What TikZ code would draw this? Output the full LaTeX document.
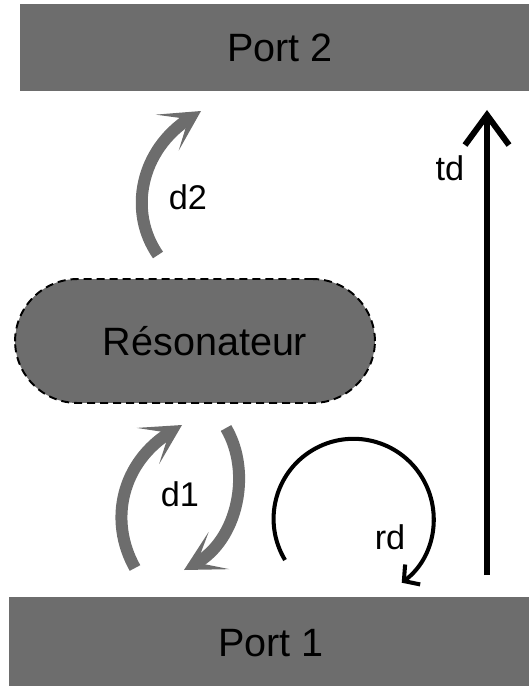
\documentclass[tikz,border=0pt]{standalone}
\usepackage{fontspec}
\setmainfont{Liberation Sans}
\definecolor{portgray}{RGB}{109,109,109}
\usetikzlibrary{arrows.meta,positioning,calc}
\tikzset{
  portbox/.style={fill=portgray, draw=none, minimum height=1.76cm,
    align=center, font=\fontsize{22.5}{26}\selectfont},
  resobox/.style={fill=portgray, draw=black, dashed, line width=1.1pt,
    dash pattern=on 0.16cm off 0.1cm, rounded corners=1.25cm,
    minimum width=7.2cm, minimum height=2.48cm,
    align=center, font=\fontsize{22.5}{26}\selectfont},
  lbl/.style={font=\fontsize{19.5}{22}\selectfont, inner sep=0pt},
  garr/.style={portgray, line width=0.24cm,
    -{Stealth[length=0.8cm, width=0.85cm, inset=0.5cm]}},
  barr/.style={black, line width=2.3pt,
    -{Straight Barb[length=0.22cm, width=0.5cm]}},
  tarr/.style={black, line width=3.4pt,
    -{Straight Barb[length=0.6cm, width=0.88cm]}},
}

\begin{document}
\begin{tikzpicture}[x=0.02cm, y=0.02cm]
  \useasboundingbox (0,0) rectangle (528,-686);

  \node[portbox, minimum width=10.4cm] (port2) at (280,-47.5) {Port 2};
  \node[portbox, minimum width=10.5cm, minimum height=1.84cm] (port1) at (271,-643) {Port 1};
  \node[resobox] (reso) at (195,-341) {\hspace*{0.4cm}R\'esonateur};

  % anchors of the coupling arrows
  \coordinate (dtwoS) at (158,-255);
  \coordinate (dtwoE) at (201,-111);
  \coordinate (doneS) at (135,-568);
  \coordinate (doneE) at (182,-425);
  \coordinate (dbackS) at (226,-428);
  \coordinate (dbackE) at (184,-570);
  \coordinate (rdS) at (285,-560);
  \coordinate (tdS) at (487,-575);
  \coordinate (tdE) at (487,-110);

  % coupling to the ports
  \draw[garr] (dtwoS) .. controls (128,-212) and (140,-150) .. (dtwoE);
  \draw[garr] (doneS) .. controls (108,-520) and (122,-462) .. (doneE);
  \draw[garr] (dbackS) .. controls (252,-472) and (238,-540) .. (dbackE);

  % reflection and transmission
  \draw[barr] (rdS) arc[start angle=211, end angle=-53, radius=80];
  \draw[tarr] (tdS) -- (tdE);

  % Labels
  \node[lbl] (ldtwo) at (188,-197) {d2};
  \node[lbl] (ldone) at (180,-494) {d1};
  \node[lbl] (lrd) at (390,-537) {rd};
  \node[lbl] (ltd) at (450,-168) {td};
\end{tikzpicture}
\end{document}
